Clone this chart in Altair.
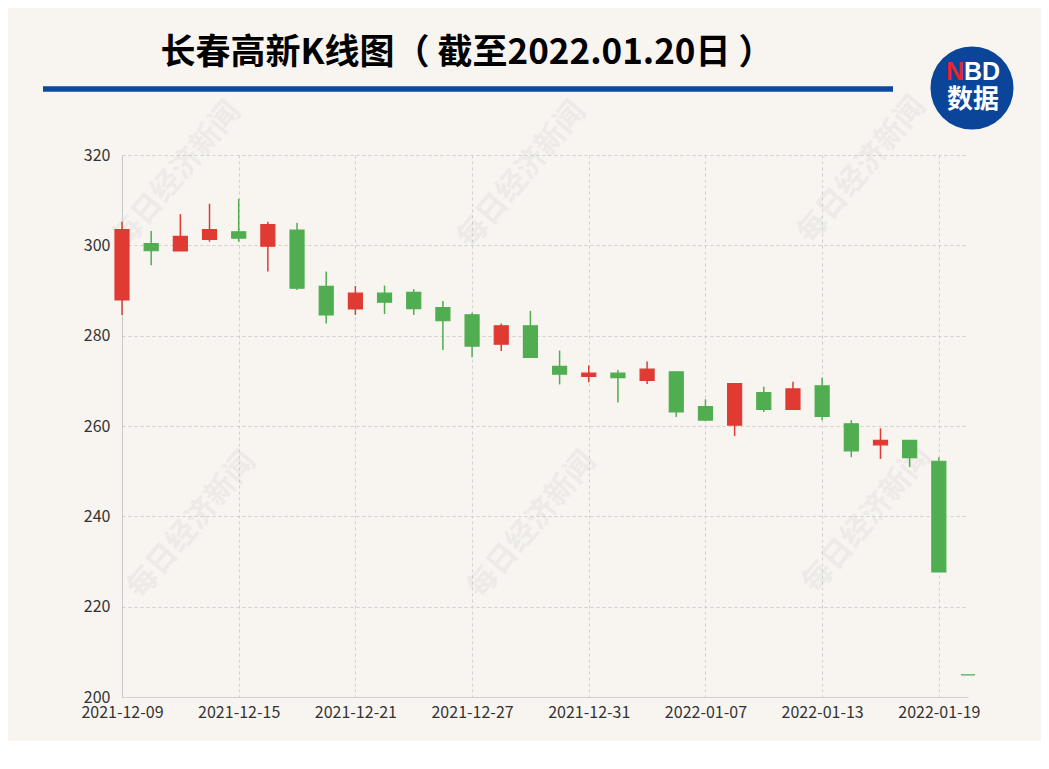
import json
import altair as alt
import pandas as pd

dates = ["2021-12-09", "2021-12-10", "2021-12-13", "2021-12-14", "2021-12-15",
         "2021-12-16", "2021-12-17", "2021-12-20", "2021-12-21", "2021-12-22",
         "2021-12-23", "2021-12-24", "2021-12-27", "2021-12-28", "2021-12-29",
         "2021-12-30", "2021-12-31", "2022-01-04", "2022-01-05", "2022-01-06",
         "2022-01-07", "2022-01-10", "2022-01-11", "2022-01-12", "2022-01-13",
         "2022-01-14", "2022-01-17", "2022-01-18", "2022-01-19", "2022-01-20"]
open_ = [287.9, 300.4, 298.75, 301.3, 303.0, 299.8, 303.4, 290.9, 285.9, 289.4,
         289.6, 286.2, 284.6, 278.1, 282.2, 273.2, 271.0, 271.7, 270.1, 272.0,
         264.3, 260.2, 267.4, 263.7, 268.9, 260.5, 255.8, 256.8, 252.2, 204.9]
close = [303.5, 298.8, 302.0, 303.5, 301.6, 304.6, 290.5, 284.6, 289.4, 287.4,
         286.0, 283.3, 277.7, 282.2, 275.2, 271.5, 271.7, 270.7, 272.6, 263.1,
         261.3, 269.4, 263.7, 268.2, 262.1, 254.5, 256.8, 253.0, 227.7, 204.9]
high = [305.2, 303.2, 306.9, 309.2, 310.3, 305.2, 305.0, 294.2, 291.0, 291.1,
        290.3, 287.7, 285.1, 282.7, 285.5, 276.7, 273.4, 272.4, 274.3, 272.0,
        265.9, 269.4, 268.7, 269.8, 270.7, 261.3, 259.5, 256.8, 253.1, 204.9]
low = [284.6, 295.6, 298.75, 300.8, 300.8, 294.2, 290.1, 282.7, 284.6, 284.8,
       284.6, 276.8, 275.2, 276.6, 275.2, 269.2, 269.7, 265.2, 269.3, 262.0,
       261.1, 257.8, 263.1, 263.7, 261.3, 253.1, 252.7, 250.9, 227.7, 204.9]
tick_idx = [0, 4, 8, 12, 16, 20, 24, 28]
y_ticks = [200, 220, 240, 260, 280, 300, 320]
title_text = "长春高新K线图（ 截至2022.01.20日 ）"
watermark = "每日经济新闻"

RED = "#df3b33"
GREEN = "#50ad50"
BG = "#f8f5f1"
FONT = "Noto Sans CJK SC"

dirs = []
for k in range(len(dates)):
    if close[k] > open_[k]:
        dirs.append("up")
    elif close[k] < open_[k]:
        dirs.append("down")
    else:
        prev = close[k - 1] if k > 0 else open_[k]
        dirs.append("up" if close[k] >= prev else "down")

df = pd.DataFrame({"i": list(range(len(dates))), "date": dates, "open": open_,
                   "close": close, "high": high, "low": low, "dir": dirs})

label_expr = json.dumps(dates) + "[datum.value]"

xscale = alt.Scale(domain=[0, len(dates) - 1], nice=False, zero=False, padding=0)
yscale = alt.Scale(domain=[200, 320], nice=False, zero=False, padding=0)
cscale = alt.Scale(domain=["up", "down"], range=[RED, GREEN])

x_axis = alt.Axis(values=tick_idx, labelExpr=label_expr, title=None, grid=True,
                  gridDash=[3, 3], gridColor="#cfcfcf", domainColor="#d0d0d0",
                  ticks=False, labelFontSize=16, labelColor="#333333",
                  labelPadding=7, labelFont=FONT, labelAngle=0,
                  labelOverlap=False, labelBound=False, labelFlush=False)
y_axis = alt.Axis(values=y_ticks, title=None, grid=True, gridDash=[3, 3],
                  gridColor="#cfcfcf", domainColor="#c8c8c8", ticks=False,
                  labelFontSize=16, labelColor="#333333", labelPadding=12,
                  labelFont=FONT)

base = alt.Chart(df)

wicks = base.mark_rule(strokeWidth=1.5).encode(
    x=alt.X("i:Q", scale=xscale, axis=x_axis),
    y=alt.Y("low:Q", scale=yscale, axis=y_axis),
    y2="high:Q",
    color=alt.Color("dir:N", scale=cscale, legend=None),
)

bodies = base.mark_bar(size=14, strokeWidth=1.2).encode(
    x=alt.X("i:Q", scale=xscale),
    y=alt.Y("open:Q", scale=yscale),
    y2="close:Q",
    color=alt.Color("dir:N", scale=cscale, legend=None),
    stroke=alt.Stroke("dir:N", scale=cscale, legend=None),
)

# faint diagonal watermarks (decoration)
wm_df = pd.DataFrame({"px": [55, 400, 740, 70, 410, 745],
                      "py": [20, 20, 15, 370, 370, 365]})
marks_wm = alt.Chart(wm_df).mark_text(
    text=watermark, angle=310, fontSize=30, font=FONT, fontWeight="bold",
    color="#c8c8c8", opacity=0.22,
).encode(x=alt.X("px:Q", scale=None), y=alt.Y("py:Q", scale=None))

deco = alt.Chart(pd.DataFrame({"d": [0]}))

title = deco.mark_text(text=title_text, fontSize=35, fontWeight="bold", font=FONT,
                       color="#000000", align="center", baseline="middle").encode(
    x=alt.value(345), y=alt.value(-102))

blue_line = deco.mark_rule(color="#0b4a9c", strokeWidth=5.5).encode(
    x=alt.value(-79), x2=alt.value(771), y=alt.value(-66))

logo = deco.mark_circle(color="#0b4599", opacity=1, size=6900).encode(
    x=alt.value(850), y=alt.value(-67))
logo_n = deco.mark_text(text="N", fontSize=25, fontWeight="bold", font="Liberation Sans",
                        color="#e8242c", align="right", baseline="middle").encode(
    x=alt.value(842), y=alt.value(-83))
logo_bd = deco.mark_text(text="BD", fontSize=25, fontWeight="bold", font="Liberation Sans",
                         color="#ffffff", align="left", baseline="middle").encode(
    x=alt.value(842), y=alt.value(-83))
logo_cn = deco.mark_text(text="数据", fontSize=26, fontWeight="bold", font=FONT,
                         color="#ffffff", align="center", baseline="middle").encode(
    x=alt.value(851), y=alt.value(-55))

chart = alt.layer(
    marks_wm, wicks, bodies, title, blue_line, logo, logo_n, logo_bd, logo_cn
).properties(
    width=846, height=542,
    autosize=alt.AutoSizeParams(type="none"),
    padding={"left": 114, "top": 147, "right": 73, "bottom": 44},
    background=BG,
).configure_view(stroke=None)

chart.save("out.html", embed_options={"renderer": "svg", "actions": False})
